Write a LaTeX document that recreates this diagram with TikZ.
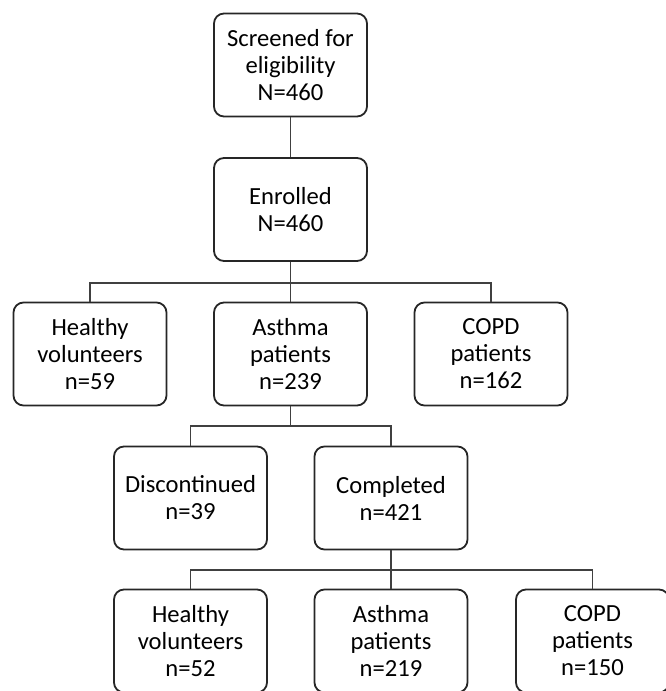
\documentclass[tikz,border=0pt]{standalone}
\usepackage{fontspec}
\setmainfont{Carlito}
\tikzset{
  flowbox/.style={draw=black!85,line width=0.9pt,rounded corners=5pt,minimum width=76.5pt,minimum height=51.5pt,inner sep=0pt,align=center,font=\fontsize{12.3}{13.5}\selectfont},
  link/.style={draw=black!75,line width=0.8pt}
}
\begin{document}
\begin{tikzpicture}[x=0.5pt,y=-0.5pt]
   \useasboundingbox (0,0) rectangle (665,691);
   \node[flowbox] (screen) at (290.5,65) {Screened for\\eligibility\\N=460};
   \node[flowbox] (enrol) at (290.5,209.5) {Enrolled\\N=460};
   \node[flowbox] (hv1) at (90,354) {Healthy\\volunteers\\n=59};
   \node[flowbox] (as1) at (290.5,354) {Asthma\\patients\\n=239};
   \node[flowbox] (cp1) at (491,354) {COPD\\patients\\n=162};
   \node[flowbox] (disc) at (190.5,498) {Discontinued\\n=39};
   \node[flowbox] (comp) at (391,498) {Completed\\n=421};
   \node[flowbox] (hv2) at (190.5,641) {Healthy\\volunteers\\n=52};
   \node[flowbox] (as2) at (391,641) {Asthma\\patients\\n=219};
   \node[flowbox] (cp2) at (592.5,641) {COPD\\patients\\n=150};
   \coordinate (j1) at (290.5,283);
   \coordinate (j2) at (290.5,426);
   \coordinate (j3) at (391,570);
\draw[link] (screen)--(enrol);
\draw[link] (enrol)--(as1);
\draw[link] (hv1.north) |- (j1) -| (cp1.north);
\draw[link] (as1.south)--(j2);
\draw[link] (disc.north) |- (j2) -| (comp.north);
\draw[link] (comp)--(as2);
\draw[link] (hv2.north) |- (j3) -| (cp2.north);
\end{tikzpicture}
\end{document}
